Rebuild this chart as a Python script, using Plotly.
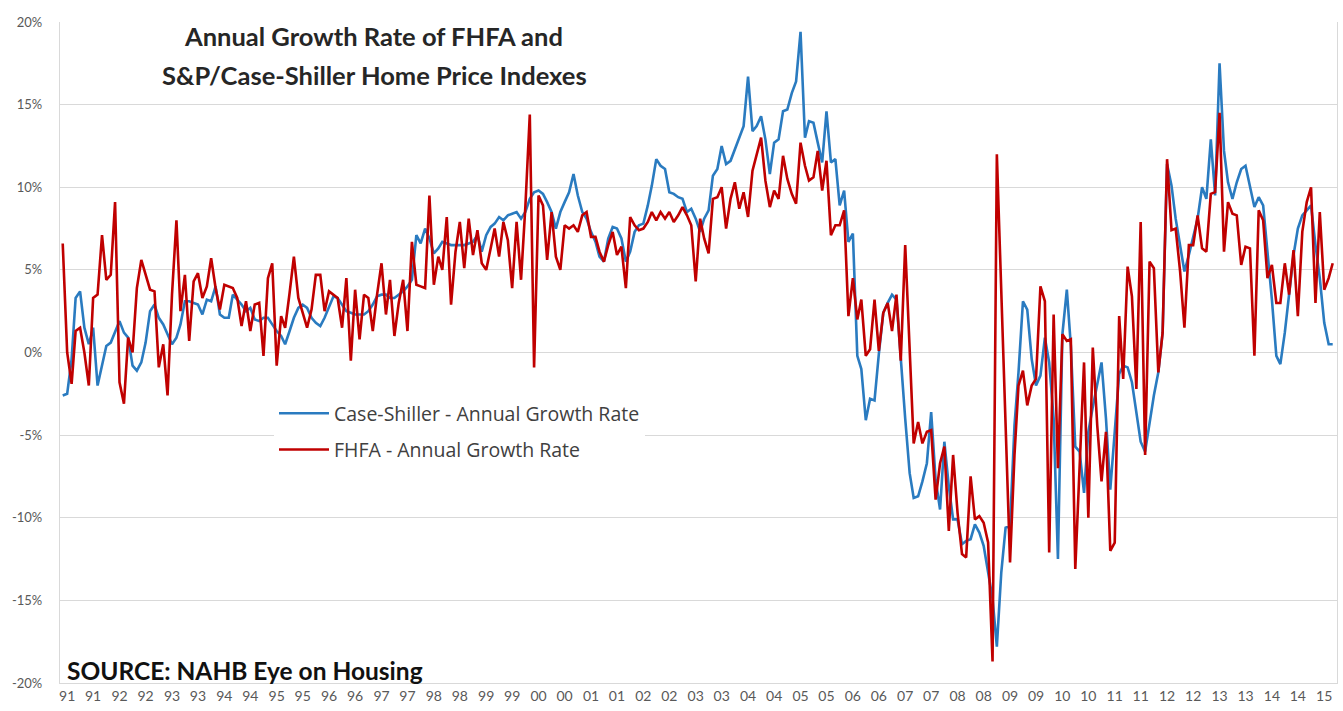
import pandas as pd
import plotly.graph_objects as go

# Monthly observations, Dec 1990 .. Mar 2015 (292 months)
months = pd.date_range("1990-12-01", periods=292, freq="MS")

case_shiller = [
    -2.6, -2.5, -0.4, 3.3, 3.7, 1.5, 0.5, 1.5, -2.0, -0.8,
    0.4, 0.6, 1.3, 1.9, 1.2, 0.9, -0.8, -1.1, -0.6, 0.6,
    2.5, 2.9, 2.1, 1.7, 1.1, 0.5, 0.9, 1.7, 3.1, 3.1,
    3.0, 2.9, 2.3, 3.2, 3.1, 4.0, 2.3, 2.1, 2.1, 3.5,
    3.2, 2.9, 2.5, 2.7, 2.0, 1.9, 2.1, 2.1, 1.7, 1.3,
    1.0, 0.5, 1.3, 2.1, 2.7, 2.9, 2.7, 2.1, 1.8, 1.6,
    2.1, 2.8, 3.4, 3.3, 2.9, 2.5, 2.4, 2.3, 2.3, 2.3,
    2.5, 2.9, 3.4, 3.5, 3.5, 3.3, 3.3, 3.5, 3.7, 4.0,
    4.4, 7.1, 6.6, 7.5, 6.9, 6.0, 6.3, 6.7, 6.6, 6.5,
    6.5, 6.5, 6.5, 6.6, 6.7, 7.1, 6.1, 7.1, 7.6, 7.8,
    8.2, 8.0, 8.3, 8.4, 8.5, 8.1, 8.5, 9.3, 9.7, 9.8,
    9.6, 9.1, 8.5, 7.5, 8.5, 9.1, 9.7, 10.8, 9.5, 8.5,
    8.1, 7.3, 6.7, 5.8, 5.5, 6.9, 7.6, 7.5, 6.9, 5.5,
    6.1, 7.3, 7.7, 7.8, 8.9, 10.1, 11.7, 11.3, 11.1, 9.7,
    9.6, 9.4, 9.3, 8.5, 8.7, 8.1, 7.3, 8.1, 8.6, 10.7,
    11.1, 12.5, 11.4, 11.6, 12.3, 13.0, 13.7, 16.7, 13.4, 13.7,
    14.3, 12.9, 10.8, 12.7, 12.9, 14.6, 14.7, 15.7, 16.4, 19.4,
    13.0, 14.0, 13.9, 12.7, 11.5, 14.6, 11.5, 11.7, 8.9, 9.8,
    6.7, 7.2, -0.2, -1.0, -4.1, -2.8, -2.9, -0.1, 2.4, 3.0,
    3.5, 3.2, -0.5, -4.0, -7.3, -8.8, -8.7, -7.8, -6.7, -3.6,
    -7.7, -9.5, -5.4, -8.1, -10.1, -10.1, -11.6, -11.4, -11.3, -10.4,
    -10.9, -11.7, -13.3, -14.9, -17.8, -13.3, -10.6, -10.5, -4.4, -1.2,
    3.1, 2.6, -0.4, -2.0, -1.4, 0.9, -0.6, -4.0, -12.5, 1.1,
    3.8, 0.4, -5.7, -6.0, -8.5, -4.8, -3.3, -1.8, -0.6, -4.0,
    -8.3, -4.8, -1.3, -0.8, -0.9, -1.8, -3.6, -5.4, -6.0, -4.2,
    -2.6, -1.2, 1.2, 11.4, 10.1, 8.1, 6.5, 4.9, 5.9, 6.9,
    8.1, 10.0, 9.3, 12.9, 9.5, 17.5, 12.2, 10.3, 9.3, 10.3,
    11.1, 11.3, 10.1, 8.8, 9.4, 8.9, 6.1, 3.2, -0.2, -0.7,
    1.2, 3.7, 5.9, 7.5, 8.3, 8.6, 8.9, 6.5, 4.5, 1.8,
    0.5, 0.5,
]

fhfa = [
    6.6, 0.0, -1.9, 1.3, 1.5, 0.0, -2.0, 3.3, 3.5, 7.1,
    4.4, 4.7, 9.1, -1.8, -3.1, 0.9, 0.0, 3.9, 5.6, 4.7,
    3.8, 3.7, -0.9, 0.5, -2.6, 3.5, 8.0, 2.5, 4.7, 0.7,
    4.3, 4.8, 3.3, 4.0, 5.7, 3.9, 2.6, 4.1, 4.0, 3.9,
    3.3, 1.6, 3.1, 1.3, 2.9, 3.0, -0.2, 4.5, 5.4, -0.8,
    2.2, 1.5, 3.6, 5.8, 3.3, 2.4, 1.5, 2.6, 4.7, 4.7,
    2.5, 3.7, 3.5, 3.3, 1.5, 4.5, -0.5, 3.8, 0.8, 3.5,
    3.3, 1.3, 3.5, 5.4, 2.3, 4.4, 1.0, 3.0, 4.4, 1.3,
    6.7, 4.1, 4.0, 3.9, 9.5, 4.1, 5.8, 5.0, 8.2, 2.9,
    6.1, 7.9, 5.1, 8.1, 5.9, 7.4, 5.4, 5.0, 6.3, 7.5,
    5.8, 7.9, 6.8, 3.9, 7.9, 4.4, 8.8, 14.4, -0.9, 9.5,
    8.9, 5.6, 8.5, 5.8, 5.0, 7.7, 7.5, 7.7, 7.3, 8.3,
    8.5, 7.0, 7.0, 6.1, 5.5, 6.5, 7.3, 5.9, 6.4, 3.9,
    8.2, 7.7, 7.4, 7.5, 7.9, 8.5, 8.0, 8.5, 8.1, 8.5,
    7.9, 8.3, 8.8, 8.3, 7.7, 4.3, 8.1, 6.9, 6.0, 9.3,
    9.4, 10.0, 7.5, 9.3, 10.3, 8.7, 9.7, 8.2, 11.0, 12.0,
    13.0, 10.4, 8.8, 9.8, 9.3, 11.9, 10.5, 9.6, 9.0, 12.7,
    11.3, 10.4, 10.6, 12.2, 9.8, 11.6, 7.1, 7.7, 7.7, 8.6,
    2.2, 4.5, 2.0, 3.2, -0.2, 0.2, 3.2, 0.1, 2.4, 3.0,
    1.3, 3.5, -0.5, 6.5, 0.5, -5.5, -4.2, -5.5, -4.8, -4.7,
    -8.9, -6.7, -5.7, -10.8, -6.2, -9.7, -12.2, -12.4, -7.5, -10.1,
    -9.9, -10.3, -11.5, -18.7, 12.0, 3.8, -4.5, -12.7, -6.2, -2.0,
    -1.1, -3.2, -2.0, -1.6, 4.0, 3.1, -12.1, 2.3, -7.0, 1.1,
    0.7, 0.8, -13.1, -7.0, -0.6, -10.0, 0.3, -4.4, -7.8, -4.8,
    -12.0, -11.5, 2.2, -1.6, 5.2, 3.4, -2.2, 7.9, -6.2, 5.5,
    5.1, -1.2, 1.2, 11.7, 7.4, 7.5, 4.9, 1.5, 6.5, 6.5,
    8.3, 6.3, 6.1, 9.6, 9.7, 14.5, 6.1, 9.1, 8.4, 8.3,
    5.3, 6.4, 6.3, -0.2, 8.6, 8.0, 4.5, 5.3, 3.0, 3.0,
    5.4, 3.5, 6.2, 2.2, 7.3, 9.1, 10.0, 3.0, 8.5, 3.8,
    4.5, 5.4,
]

assert len(case_shiller) == len(months) == len(fhfa)

y_tick_vals = [-20, -15, -10, -5, 0, 5, 10, 15, 20]
y_tick_text = ["-20%", "-15%", "-10%", "-5%", "0%", "5%", "10%", "15%", "20%"]

series_names = ["Case-Shiller - Annual Growth Rate", "FHFA - Annual Growth Rate"]
title_lines = ["Annual Growth Rate of FHFA and", "S&P/Case-Shiller Home Price Indexes"]
source_text = "SOURCE: NAHB Eye on Housing"

W, H = 1343, 711
L, R, T, B = 60, 6, 22, 28
PW, PH = W - L - R, H - T - B


def px_x(px):
    return (px - L) / PW


def px_y(py):
    return (H - B - py) / PH


BLUE = "#2a7bc0"
RED = "#c00000"
GRID = "#d9d9d9"
TICK = "#595959"

fig = go.Figure()
fig.add_trace(go.Scatter(
    x=months, y=case_shiller, mode="lines", name=series_names[0],
    line=dict(color=BLUE, width=2.6), legendgroup="a",
))
fig.add_trace(go.Scatter(
    x=months, y=fhfa, mode="lines", name=series_names[1],
    line=dict(color=RED, width=2.6), legendgroup="b",
))

fig.update_layout(
    width=W, height=H,
    margin=dict(l=L, r=R, t=T, b=B, autoexpand=False),
    paper_bgcolor="white", plot_bgcolor="white",
    showlegend=True,
    legend=dict(
        x=px_x(274), y=px_y(394), xanchor="left", yanchor="top",
        bgcolor="white", font=dict(family="Open Sans", size=19.5, color="#404040"),
        tracegroupgap=8, itemwidth=50, traceorder="grouped",
    ),
    xaxis=dict(
        type="date",
        range=["1990-11-12", "2015-03-31"],
        tick0="1991-01-01", dtick="M6", tickformat="%y",
        showgrid=False, zeroline=False,
        showline=True, linecolor=GRID, linewidth=1.3,
        ticks="", tickfont=dict(family="Lato", size=14, color=TICK),
    ),
    yaxis=dict(
        range=[-20, 20],
        tickvals=y_tick_vals, ticktext=y_tick_text,
        showgrid=True, gridcolor=GRID, gridwidth=1.3,
        zeroline=False,
        showline=True, linecolor=GRID, linewidth=1.3, mirror=True,
        ticks="", ticklabelstandoff=14,
        tickfont=dict(family="Lato", size=13, color=TICK),
    ),
    shapes=[
        dict(type="rect", xref="paper", yref="paper",
             x0=px_x(178), x1=px_x(578), y0=px_y(100), y1=px_y(12),
             fillcolor="white", line=dict(width=0), layer="between"),
    ],
    annotations=[
        dict(text="<b>" + title_lines[0] + "</b>", xref="paper", yref="paper",
             x=px_x(373), y=px_y(36), xanchor="center", yanchor="middle",
             showarrow=False, font=dict(family="Lato", size=25.5, color="#262626")),
        dict(text="<b>" + title_lines[1] + "</b>", xref="paper", yref="paper",
             x=px_x(374), y=px_y(75), xanchor="center", yanchor="middle",
             showarrow=False, font=dict(family="Lato", size=25.5, color="#262626")),
        dict(text="<b>" + source_text + "</b>", xref="paper", yref="paper",
             x=px_x(65), y=px_y(670), xanchor="left", yanchor="middle",
             showarrow=False, font=dict(family="Lato", size=24.5, color="#111111")),
    ],
)

fig.write_html(
    "out.html",
    config={"displayModeBar": False},
    post_script="document.body.style.margin='0';document.body.style.padding='0';",
)
